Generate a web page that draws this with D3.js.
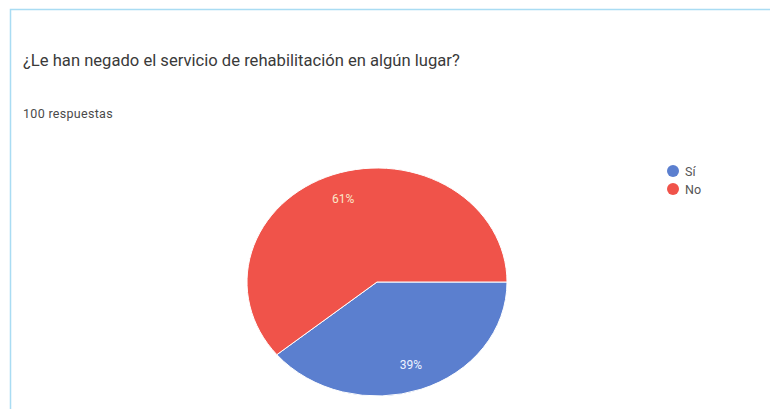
<!DOCTYPE html>
<html>
<head>
<meta charset="utf-8">
<script src="https://cdn.jsdelivr.net/npm/d3@7"></script>
<style>
  html, body { margin: 0; padding: 0; background: #ffffff; }
  svg { display: block; font-family: Roboto, "Noto Sans", Arial, sans-serif; }
</style>
</head>
<body>
<svg id="chart" width="770" height="409"></svg>
<script>
const title = "¿Le han negado el servicio de rehabilitación en algún lugar?";
const subtitle = "100 respuestas";
const categories = ["Sí", "No"];
const values = [39, 61];
const colors = ["#5b7fcf", "#f0534a"];

const svg = d3.select("#chart");
const W = 770, H = 409;

// card border
svg.append("rect")
  .attr("x", 10.5).attr("y", 9.5)
  .attr("width", W + 20).attr("height", H + 20)
  .attr("fill", "#ffffff")
  .attr("stroke", "#a9dcf3").attr("stroke-width", 1.5);

svg.append("text")
  .attr("x", 23).attr("y", 66)
  .attr("font-size", 16.6).attr("fill", "#3a3a3a")
  .text(title);

svg.append("text")
  .attr("x", 23).attr("y", 118)
  .attr("font-size", 12.5).attr("fill", "#4a4a4a")
  .attr("letter-spacing", 0.3)
  .text(subtitle);

// pie (slightly elliptical like the reference)
const cx = 377, cy = 282, rx = 130, ry = 114;
const R = 100;
const data = categories.map((c, i) => ({ cat: c, value: values[i], color: colors[i] }));
const pie = d3.pie().value(d => d.value).sort(null)
  .startAngle(Math.PI / 2).endAngle(Math.PI / 2 + 2 * Math.PI);
const arcs = pie(data);
const arc = d3.arc().innerRadius(0).outerRadius(R);
const labelArc = d3.arc().innerRadius(R * 0.77).outerRadius(R * 0.77);

const g = svg.append("g")
  .attr("transform", `translate(${cx},${cy}) scale(${rx / R},${ry / R})`);
g.selectAll("path").data(arcs).enter().append("path")
  .attr("d", arc)
  .attr("fill", d => d.data.color)
  .attr("stroke", "#ffffff")
  .attr("stroke-width", 1)
  .attr("vector-effect", "non-scaling-stroke");

const total = d3.sum(values);
svg.selectAll("text.lbl").data(arcs).enter().append("text")
  .attr("class", "lbl")
  .attr("x", d => cx + labelArc.centroid(d)[0] * rx / R)
  .attr("y", d => cy + labelArc.centroid(d)[1] * ry / R)
  .attr("text-anchor", "middle")
  .attr("dominant-baseline", "central")
  .attr("font-size", 12)
  .attr("fill", d => d.data.cat === "No" ? "#fbe7c8" : "#eef2ff")
  .text(d => Math.round(d.data.value / total * 100) + "%");

// legend
const lg = svg.append("g").attr("transform", "translate(673,171)");
const items = lg.selectAll("g").data(data).enter().append("g")
  .attr("transform", (d, i) => `translate(0,${i * 18})`);
items.append("circle").attr("r", 6).attr("fill", d => d.color);
items.append("text")
  .attr("x", 12).attr("y", 0)
  .attr("dominant-baseline", "central")
  .attr("font-size", 12.5).attr("fill", "#555")
  .text(d => d.cat);
</script>
</body>
</html>
